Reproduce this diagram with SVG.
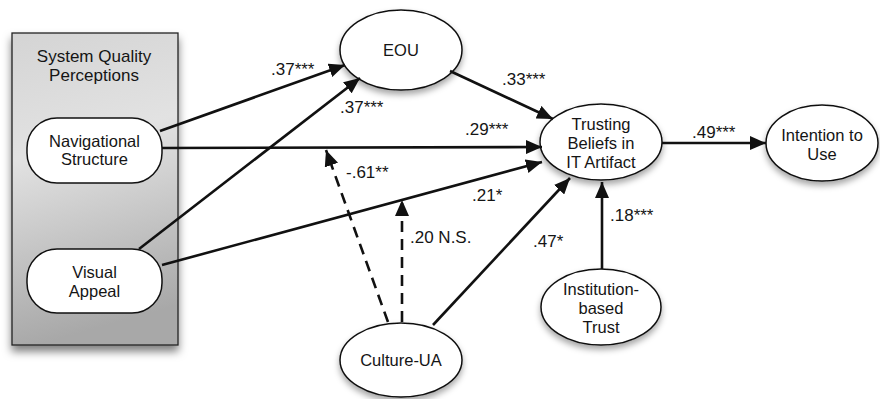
<svg xmlns="http://www.w3.org/2000/svg" width="880" height="399" viewBox="0 0 880 399">
<style>
text{font-family:"Liberation Sans",Arial,sans-serif;font-size:16.5px;fill:#151515;text-anchor:middle}
.lbl{text-anchor:start;font-size:17px}
.ttl{font-size:17px}
.node{fill:#fff;stroke:#111;stroke-width:1.5}
.c{stroke:#111;stroke-width:2.6;fill:none}
.d{stroke-dasharray:11,7}
</style>
<defs>
<linearGradient id="g" x1="0" y1="0" x2="0.15" y2="1">
<stop offset="0" stop-color="#d4d4d4"/>
<stop offset="0.4" stop-color="#e2e2e2"/>
<stop offset="1" stop-color="#a8a8a8"/>
</linearGradient>
<filter id="sh" x="-20%" y="-20%" width="140%" height="150%">
<feDropShadow dx="0" dy="4" stdDeviation="3" flood-color="#000" flood-opacity="0.35"/>
</filter>
<filter id="sh2" x="-20%" y="-10%" width="140%" height="125%">
<feDropShadow dx="0" dy="6" stdDeviation="4" flood-color="#000" flood-opacity="0.5"/>
</filter>
<marker id="a" markerUnits="userSpaceOnUse" markerWidth="16" markerHeight="14" refX="16" refY="7" orient="auto">
<path d="M0,0 L16,7 L0,14 z" fill="#111"/>
</marker>
</defs>
<g id="system-quality">
<rect x="12" y="33" width="166" height="312" fill="url(#g)" stroke="#222" stroke-width="1.3" filter="url(#sh2)"/>
<text class="ttl" x="94" y="62">System Quality</text>
<text class="ttl" x="94" y="81">Perceptions</text>
</g>
<g id="navigational">
<rect class="node" x="27" y="118" width="135" height="65" rx="30" ry="30"/>
<text x="94.500" y="147">Navigational</text>
<text x="94.500" y="165">Structure</text>
</g>
<g id="visual">
<rect class="node" x="27" y="249" width="135" height="64" rx="30" ry="30"/>
<text x="94.500" y="278">Visual</text>
<text x="94.500" y="297">Appeal</text>
</g>
<g id="eou">
<ellipse class="node" cx="401" cy="50" rx="61" ry="40" filter="url(#sh)"/>
<text x="401" y="56">EOU</text>
</g>
<g id="trusting">
<ellipse class="node" cx="601" cy="142" rx="61" ry="38" filter="url(#sh)"/>
<text x="601" y="130">Trusting</text>
<text x="601" y="149">Beliefs in</text>
<text x="601" y="168">IT Artifact</text>
</g>
<g id="intention">
<ellipse class="node" cx="822" cy="143" rx="56" ry="38" filter="url(#sh)"/>
<text x="822" y="141">Intention to</text>
<text x="822" y="160">Use</text>
</g>
<g id="institution">
<ellipse class="node" cx="601" cy="307" rx="60" ry="38" filter="url(#sh)"/>
<text x="601" y="295">Institution-</text>
<text x="601" y="314">based</text>
<text x="601" y="333">Trust</text>
</g>
<g id="culture">
<ellipse class="node" cx="401" cy="360" rx="61" ry="37" filter="url(#sh)"/>
<text x="401" y="366">Culture-UA</text>
</g>
<g id="connectors">
<line class="c" x1="160" y1="131" x2="345" y2="65" marker-end="url(#a)"/>
<line class="c" x1="139" y1="249" x2="360" y2="78" marker-end="url(#a)"/>
<line class="c" x1="162" y1="148" x2="542" y2="147" marker-end="url(#a)"/>
<line class="c" x1="162" y1="265" x2="542" y2="162" marker-end="url(#a)"/>
<line class="c" x1="450" y1="71" x2="553" y2="119" marker-end="url(#a)"/>
<line class="c" x1="662" y1="143" x2="766" y2="143" marker-end="url(#a)"/>
<line class="c" x1="602" y1="269" x2="602" y2="182" marker-end="url(#a)"/>
<line class="c" x1="433" y1="325" x2="570" y2="178" marker-end="url(#a)"/>
<line class="c d" x1="388" y1="322" x2="326" y2="150" marker-end="url(#a)"/>
<line class="c d" x1="402" y1="322" x2="402" y2="200" marker-end="url(#a)"/>
</g>
<g id="labels">
<text class="lbl" x="271" y="75">.37***</text>
<text class="lbl" x="340" y="113">.37***</text>
<text class="lbl" x="502" y="85">.33***</text>
<text class="lbl" x="465" y="135">.29***</text>
<text class="lbl" x="346" y="178">-.61**</text>
<text class="lbl" x="472" y="201">.21*</text>
<text class="lbl" x="410" y="243">.20 N.S.</text>
<text class="lbl" x="533" y="247">.47*</text>
<text class="lbl" x="610" y="221">.18***</text>
<text class="lbl" x="692" y="138">.49***</text>
</g>
</svg>
